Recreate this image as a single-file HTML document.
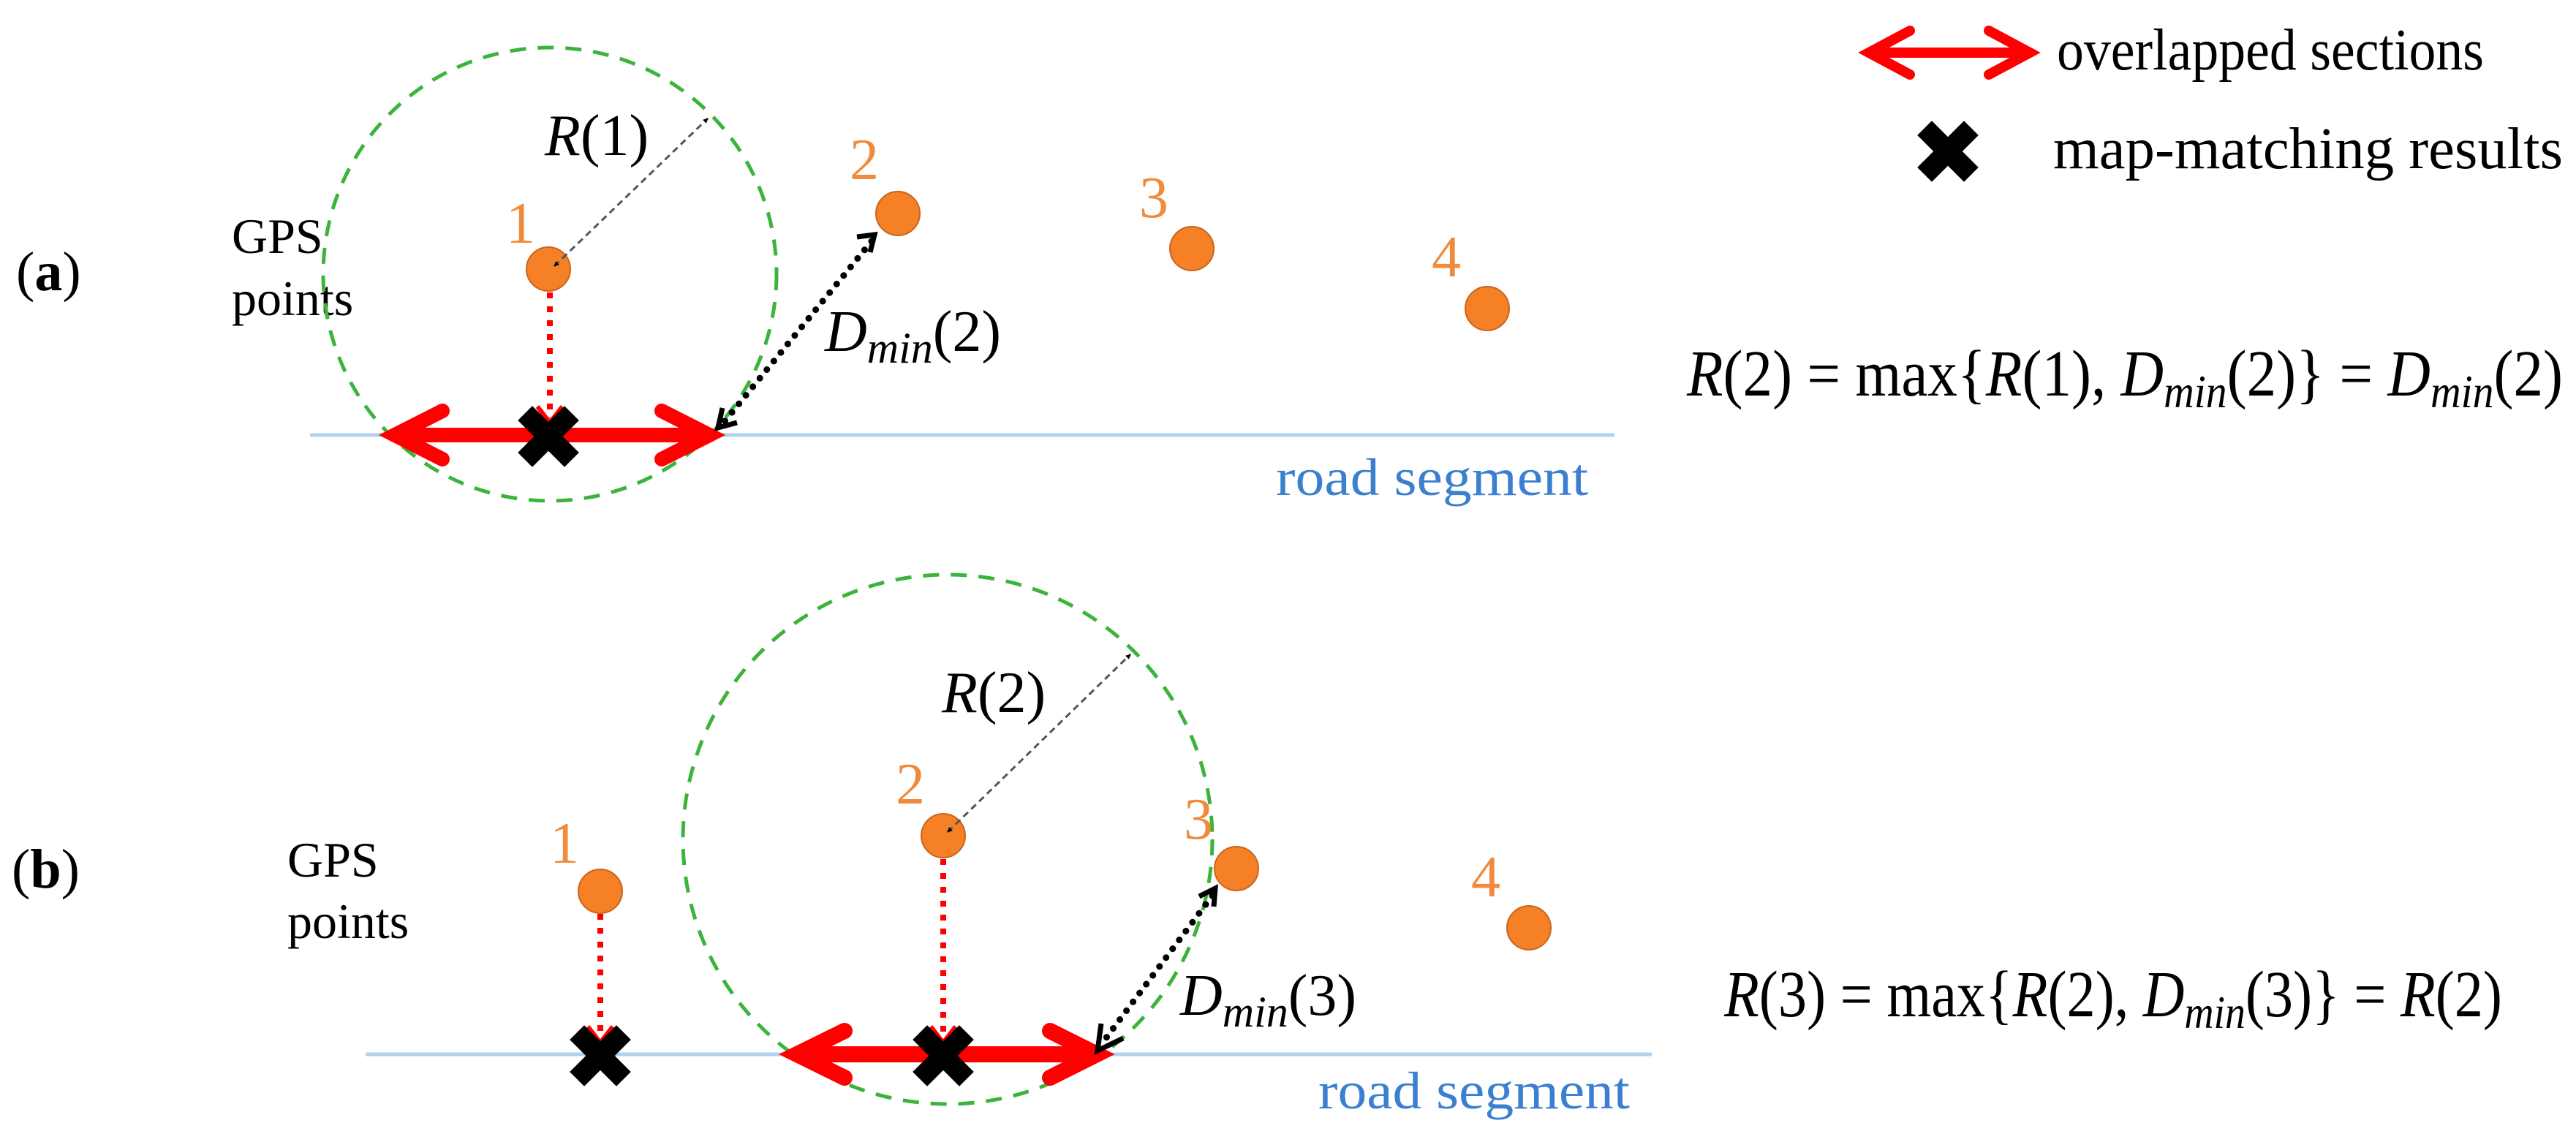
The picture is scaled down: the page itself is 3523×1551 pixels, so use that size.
<!DOCTYPE html>
<html><head><meta charset="utf-8"><style>
html,body{margin:0;padding:0;background:#fff;}
svg{display:block;}
</style></head><body>
<svg width="3523" height="1551" viewBox="0 0 3523 1551" xmlns="http://www.w3.org/2000/svg">
<defs>
<marker id="tri" viewBox="0 0 10 10" refX="9" refY="5" markerWidth="7" markerHeight="7" markerUnits="userSpaceOnUse" orient="auto-start-reverse">
<path d="M0,0 L10,5 L0,10 z" fill="#000"/></marker>
<g id="xm"><line x1="-22" y1="-22" x2="22" y2="22" stroke="#000" stroke-width="28" stroke-linecap="square"/><line x1="22" y1="-22" x2="-22" y2="22" stroke="#000" stroke-width="28" stroke-linecap="square"/></g>
</defs>
<g font-family="'Liberation Serif', serif">

<!-- LEGEND -->
<g stroke="#ff0000" stroke-width="14" stroke-linecap="round" fill="none">
<line x1="2556" y1="72" x2="2776" y2="72"/>
<polyline points="2612,42 2556,72 2612,102"/>
<polyline points="2720,42 2776,72 2720,102"/>
</g>
<text x="2813" y="95" font-size="80" textLength="584" lengthAdjust="spacingAndGlyphs">overlapped sections</text>
<use href="#xm" x="2664" y="207"/>
<text x="2808" y="230" font-size="80" textLength="697" lengthAdjust="spacingAndGlyphs">map-matching results</text>

<!-- PANEL A -->
<text x="22" y="397" font-size="76">(<tspan font-weight="bold">a</tspan>)</text>
<text x="317" y="346" font-size="68">GPS</text>
<text x="317" y="431" font-size="68">points</text>
<line x1="424" y1="595" x2="2208" y2="595" stroke="#add3ef" stroke-width="5"/>
<circle cx="752" cy="375" r="310" fill="none" stroke="#3cb43c" stroke-width="5" stroke-dasharray="22 16"/>
<line x1="752" y1="400" x2="752" y2="572" stroke="#ff0000" stroke-width="8" stroke-dasharray="8 11"/>
<polyline points="735,556 752,578 769,556" fill="none" stroke="#ff0000" stroke-width="6"/>
<g stroke="#ff0000" stroke-width="20" stroke-linecap="round" fill="none">
<line x1="540" y1="595" x2="970" y2="595"/>
<polyline points="605,562 540,595 605,628"/>
<polyline points="905,562 970,595 905,628"/>
</g>
<use href="#xm" x="750" y="597"/>
<circle cx="750" cy="368" r="30" fill="#f58025" stroke="#c8651f" stroke-width="2"/>
<circle cx="1228" cy="292" r="30" fill="#f58025" stroke="#c8651f" stroke-width="2"/>
<circle cx="1630" cy="340" r="30" fill="#f58025" stroke="#c8651f" stroke-width="2"/>
<circle cx="2034" cy="422" r="30" fill="#f58025" stroke="#c8651f" stroke-width="2"/>
<g fill="#f08a3c" font-size="80">
<text x="692" y="332">1</text><text x="1162" y="245">2</text><text x="1558" y="297">3</text><text x="1958" y="378">4</text>
</g>
<line x1="758" y1="364" x2="968" y2="162" stroke="#555" stroke-width="3" stroke-dasharray="9 6" marker-start="url(#tri)" marker-end="url(#tri)"/>
<text x="745" y="212" font-size="80" font-style="italic">R<tspan font-style="normal">(1)</tspan></text>
<line x1="1192" y1="330" x2="988" y2="580" stroke="#000" stroke-width="9" stroke-linecap="round" stroke-dasharray="0.1 15"/>
<polyline points="1172,324 1196,321 1190,345" fill="none" stroke="#000" stroke-width="7"/>
<polyline points="988,558 982,585 1008,578" fill="none" stroke="#000" stroke-width="7"/>
<text x="1128" y="480" font-size="80" font-style="italic">D<tspan font-size="60" dy="16">min</tspan><tspan font-style="normal" dy="-16">(2)</tspan></text>
<text x="1745" y="677" font-size="72" fill="#3a7fd0" textLength="427" lengthAdjust="spacingAndGlyphs">road segment</text>
<text x="2307" y="541" font-size="90" textLength="1198" lengthAdjust="spacingAndGlyphs"><tspan font-style="italic">R</tspan>(2) = max{<tspan font-style="italic">R</tspan>(1), <tspan font-style="italic">D</tspan><tspan font-style="italic" font-size="64" dy="16">min</tspan><tspan dy="-16">(2)} = </tspan><tspan font-style="italic">D</tspan><tspan font-style="italic" font-size="64" dy="16">min</tspan><tspan dy="-16">(2)</tspan></text>

<!-- PANEL B -->
<text x="16" y="1214" font-size="76">(<tspan font-weight="bold">b</tspan>)</text>
<text x="393" y="1199" font-size="68">GPS</text>
<text x="393" y="1283" font-size="68">points</text>
<line x1="500" y1="1442" x2="2259" y2="1442" stroke="#add3ef" stroke-width="5"/>
<circle cx="1296" cy="1148" r="362" fill="none" stroke="#3cb43c" stroke-width="5" stroke-dasharray="22 16"/>
<line x1="821" y1="1250" x2="821" y2="1420" stroke="#ff0000" stroke-width="8" stroke-dasharray="8 11"/>
<polyline points="804,1404 821,1426 838,1404" fill="none" stroke="#ff0000" stroke-width="6"/>
<line x1="1290" y1="1175" x2="1290" y2="1420" stroke="#ff0000" stroke-width="8" stroke-dasharray="8 11"/>
<polyline points="1273,1404 1290,1426 1307,1404" fill="none" stroke="#ff0000" stroke-width="6"/>
<g stroke="#ff0000" stroke-width="22" stroke-linecap="round" fill="none">
<line x1="1090" y1="1442" x2="1498" y2="1442"/>
<polyline points="1155,1410 1090,1442 1155,1474"/>
<polyline points="1436,1410 1500,1442 1436,1474"/>
</g>
<use href="#xm" x="821" y="1444"/>
<use href="#xm" x="1290" y="1444"/>
<circle cx="821" cy="1219" r="30" fill="#f58025" stroke="#c8651f" stroke-width="2"/>
<circle cx="1290" cy="1143" r="30" fill="#f58025" stroke="#c8651f" stroke-width="2"/>
<circle cx="1691" cy="1188" r="30" fill="#f58025" stroke="#c8651f" stroke-width="2"/>
<circle cx="2091" cy="1269" r="30" fill="#f58025" stroke="#c8651f" stroke-width="2"/>
<g fill="#f08a3c" font-size="80">
<text x="752" y="1180">1</text><text x="1225" y="1099">2</text><text x="1619" y="1147">3</text><text x="2012" y="1226">4</text>
</g>
<line x1="1296" y1="1138" x2="1546" y2="895" stroke="#555" stroke-width="3" stroke-dasharray="9 6" marker-start="url(#tri)" marker-end="url(#tri)"/>
<text x="1288" y="974" font-size="80" font-style="italic">R<tspan font-style="normal">(2)</tspan></text>
<line x1="1658" y1="1225" x2="1508" y2="1426" stroke="#000" stroke-width="9" stroke-linecap="round" stroke-dasharray="0.1 15"/>
<polyline points="1640,1226 1662,1215 1660,1240" fill="none" stroke="#000" stroke-width="7"/>
<polyline points="1506,1400 1501,1437 1536,1420" fill="none" stroke="#000" stroke-width="7"/>
<text x="1614" y="1388" font-size="80" font-style="italic">D<tspan font-size="60" dy="16">min</tspan><tspan font-style="normal" dy="-16">(3)</tspan></text>
<text x="1803" y="1516" font-size="72" fill="#3a7fd0" textLength="426" lengthAdjust="spacingAndGlyphs">road segment</text>
<text x="2358" y="1390" font-size="90" textLength="1064" lengthAdjust="spacingAndGlyphs"><tspan font-style="italic">R</tspan>(3) = max{<tspan font-style="italic">R</tspan>(2), <tspan font-style="italic">D</tspan><tspan font-style="italic" font-size="64" dy="16">min</tspan><tspan dy="-16">(3)} = </tspan><tspan font-style="italic">R</tspan>(2)</text>
</g>
</svg>
</body></html>
